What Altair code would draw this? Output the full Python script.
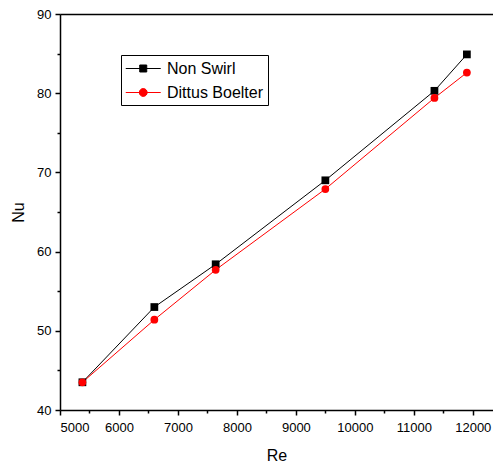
import altair as alt
import pandas as pd

re_values = [5380, 6600, 7640, 9500, 11350, 11900]
nu_non_swirl = [43.5, 53.0, 58.4, 69.0, 80.3, 84.9]
nu_dittus = [43.5, 51.4, 57.7, 67.9, 79.4, 82.6]
series_names = ["Non Swirl", "Dittus Boelter"]
series_colors = ["#000000", "#ff0000"]
x_major = [5000, 6000, 7000, 8000, 9000, 10000, 11000, 12000]
x_minor = [5500, 6500, 7500, 8500, 9500, 10500, 11500]
y_major = [40, 50, 60, 70, 80, 90]
y_minor = [45, 55, 65, 75, 85]

rows = []
for name, vals in zip(series_names, [nu_non_swirl, nu_dittus]):
    for r, v in zip(re_values, vals):
        rows.append({"Re": r, "Nu": v, "series": name})
df = pd.DataFrame(rows)

FONT = "Liberation Sans"
xscale = alt.Scale(domain=[5000, 12343], nice=False, zero=False)
yscale = alt.Scale(domain=[40, 90], nice=False, zero=False)
cscale = alt.Scale(domain=series_names, range=series_colors)

base = alt.Chart(df)

lines = base.mark_line(strokeWidth=1, clip=False).encode(
    x=alt.X("Re:Q", scale=xscale, axis=alt.Axis(
        orient="bottom", values=x_major, format="d", title="Re", grid=False,
        tickSize=5, tickColor="black", domainColor="black", domainWidth=1.5,
        tickWidth=1.5, labelFont=FONT, labelFontSize=13, labelColor="black",
        labelPadding=6, titleFont=FONT, titleFontSize=16,
        titleFontWeight="normal", titleColor="black", titlePadding=13)),
    y=alt.Y("Nu:Q", scale=yscale, axis=alt.Axis(
        orient="left", values=y_major, format="d", title="Nu", grid=False,
        tickSize=5, tickColor="black", domainColor="black", domainWidth=1.5,
        tickWidth=1.5, labelFont=FONT, labelFontSize=13, labelColor="black",
        labelPadding=4, titleFont=FONT, titleFontSize=16,
        titleFontWeight="normal", titleColor="black", titlePadding=10)),
    color=alt.Color("series:N", scale=cscale, legend=None),
    detail="series:N",
)

points = base.mark_point(filled=True, size=60, opacity=1).encode(
    x=alt.X("Re:Q", scale=xscale, axis=alt.Axis(
        orient="bottom", values=x_minor, labels=False, domain=False, title=None,
        grid=False, tickSize=3, tickWidth=1.5, tickColor="black")),
    y=alt.Y("Nu:Q", scale=yscale, axis=alt.Axis(
        orient="left", values=y_minor, labels=False, domain=False, title=None,
        grid=False, tickSize=3, tickWidth=1.5, tickColor="black")),
    color=alt.Color("series:N", scale=cscale, legend=None),
    shape=alt.Shape("series:N", scale=alt.Scale(domain=series_names, range=["square", "circle"]), legend=None),
)

sq_path = "M-1,0H3M0.6,-0.4H1.4V0.4H0.6Z"
ci_path = "M-1,0H3M1.45,0A0.45,0.45,0,1,1,0.55,0A0.45,0.45,0,1,1,1.45,0Z"
legend = alt.Legend(
    title=None, orient="none", legendX=61, legendY=41, strokeColor="black",
    padding=4, symbolSize=306, symbolStrokeWidth=1, symbolOpacity=1,
    labelOffset=23, rowPadding=6, labelFont=FONT, labelFontSize=16,
    labelColor="black",
)

legend_layer = base.mark_point(filled=True, size=1, strokeWidth=1, opacity=1).encode(
    x=alt.X("Re:Q", scale=xscale, axis=alt.Axis(
        orient="top", labels=False, ticks=False, title=None, grid=False,
        domainColor="black", domainWidth=1.5)),
    y=alt.Y("Nu:Q", scale=yscale, axis=None),
    fill=alt.Fill("series:N", scale=cscale, legend=legend),
    stroke=alt.Stroke("series:N", scale=cscale, legend=legend),
    shape=alt.Shape("series:N", scale=alt.Scale(domain=series_names, range=[sq_path, ci_path]), legend=legend),
)

chart = alt.layer(legend_layer, lines, points).resolve_scale(
    shape="independent", fill="independent", stroke="independent"
).resolve_axis(x="independent", y="independent").properties(
    width=433, height=396,
    autosize=alt.AutoSizeParams(type="none"),
    padding={"left": 52, "top": 6, "right": 0, "bottom": 55},
).configure_view(stroke=None).configure(background="white")

chart.save("out.html", embed_options={"renderer": "svg", "actions": False})
